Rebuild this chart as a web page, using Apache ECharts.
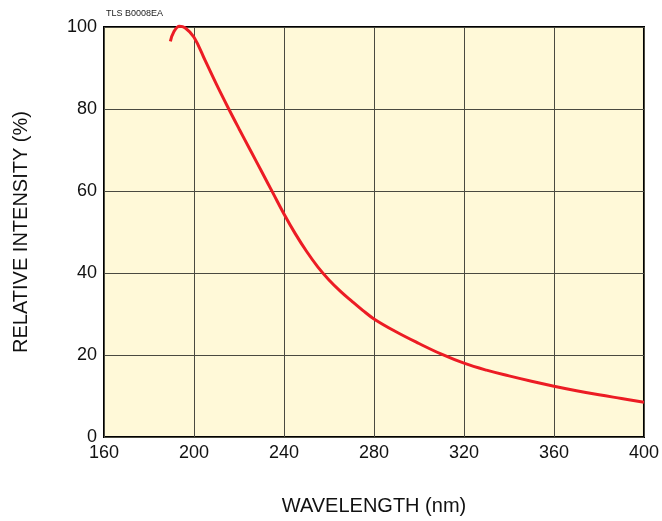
<!DOCTYPE html>
<html>
<head>
<meta charset="utf-8">
<script src="https://cdn.jsdelivr.net/npm/echarts@6/dist/echarts.min.js"></script>
<style>html,body{margin:0;padding:0;background:#fff;overflow:hidden;}#c{width:662px;height:521px;}</style>
</head>
<body>
<div id="c"></div>
<script>
const wavelength = [189.5, 191, 193.5, 196, 200, 205, 210, 215, 220, 225, 230, 235, 240, 245, 250, 255, 260, 265, 270, 275, 280, 290, 300, 310, 320, 330, 340, 350, 360, 370, 380, 390, 400];
const intensity  = [96.5, 98.8, 100.2, 99.8, 97.5, 91.8, 86.0, 80.5, 75.2, 70.0, 64.8, 59.6, 54.4, 49.6, 45.3, 41.5, 38.3, 35.6, 33.2, 30.9, 28.8, 25.6, 22.8, 20.2, 18.0, 16.3, 14.9, 13.6, 12.4, 11.3, 10.3, 9.4, 8.5];
const xTicks = [160, 200, 240, 280, 320, 360, 400];
const yTicks = [0, 20, 40, 60, 80, 100];
const chartLabel = 'TLS B0008EA';
const xTitle = 'WAVELENGTH (nm)';
const yTitle = 'RELATIVE INTENSITY (%)';

const font = 'Liberation Sans, Arial, Helvetica, sans-serif';
const chart = echarts.init(document.getElementById('c'), null, {renderer: 'canvas'});
chart.setOption({
  animation: false,
  backgroundColor: '#ffffff',
  grid: {left: 104, right: 18, top: 27, bottom: 78, show: true, backgroundColor: '#FFF9D8', borderColor: '#000', borderWidth: 2},
  graphic: [
    {type: 'text', left: 106, top: 9, style: {text: chartLabel, fontSize: 9, fontFamily: font, fill: '#222'}}
  ],
  xAxis: {
    type: 'value', min: xTicks[0], max: xTicks[xTicks.length - 1], interval: 40,
    name: xTitle, nameLocation: 'middle', nameGap: 59,
    nameTextStyle: {fontSize: 20, fontFamily: font, color: '#111'},
    axisLine: {show: false}, axisTick: {show: false},
    axisLabel: {fontSize: 18, fontFamily: font, color: '#111', margin: 7},
    splitLine: {show: true, lineStyle: {color: '#4a4a40', width: 1}}
  },
  yAxis: {
    type: 'value', min: yTicks[0], max: yTicks[yTicks.length - 1], interval: 20,
    name: yTitle, nameLocation: 'middle', nameGap: 73, nameRotate: 90,
    nameTextStyle: {fontSize: 20, fontFamily: font, color: '#111'},
    axisLine: {show: false}, axisTick: {show: false},
    axisLabel: {fontSize: 18, fontFamily: font, color: '#111', margin: 7},
    splitLine: {show: true, lineStyle: {color: '#4a4a40', width: 1}}
  },
  series: [{
    type: 'line', smooth: 0.4, showSymbol: false,
    data: wavelength.map((w, i) => [w, intensity[i]]),
    lineStyle: {color: '#EC1C24', width: 3},
    clip: false
  }]
});
</script>
</body>
</html>
